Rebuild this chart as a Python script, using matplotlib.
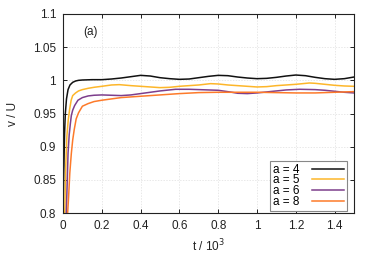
import matplotlib
matplotlib.use("Agg")
import matplotlib.pyplot as plt

plt.rcParams["font.family"] = ["Liberation Sans", "DejaVu Sans"]

# velocity curves v/U against t/10^3, one per aspect ratio a
t4 = [0.0, 0.004, 0.008, 0.012, 0.018, 0.026, 0.036, 0.05, 0.065, 0.08, 0.1, 0.15, 0.2, 0.25,
      0.3, 0.35, 0.4, 0.45, 0.5, 0.55, 0.6, 0.65, 0.7, 0.75, 0.8, 0.85, 0.9, 0.95, 1.0, 1.05,
      1.1, 1.15, 1.2, 1.25, 1.3, 1.35, 1.4, 1.45, 1.5]
v4 = [0.78, 0.86, 0.92, 0.95, 0.972, 0.986, 0.993, 0.997, 0.999, 1.0, 1.0005, 1.001, 1.001,
      1.002, 1.0035, 1.0055, 1.0075, 1.0065, 1.004, 1.0025, 1.0015, 1.002, 1.004, 1.006, 1.0075,
      1.007, 1.005, 1.0035, 1.0025, 1.003, 1.0045, 1.0065, 1.008, 1.007, 1.0045, 1.0025, 1.0015,
      1.0025, 1.005]

t5 = [0.0, 0.009, 0.014, 0.02, 0.027, 0.034, 0.042, 0.05, 0.065, 0.08, 0.1, 0.13, 0.16, 0.2,
      0.25, 0.29, 0.35, 0.4, 0.45, 0.5, 0.55, 0.6, 0.65, 0.7, 0.76, 0.8, 0.85, 0.9, 0.95, 1.0,
      1.05, 1.1, 1.15, 1.2, 1.27, 1.3, 1.35, 1.4, 1.45, 1.5]
v5 = [0.70, 0.80, 0.87, 0.916, 0.94, 0.956, 0.97, 0.977, 0.981, 0.984, 0.986, 0.988, 0.9895,
      0.991, 0.993, 0.9935, 0.992, 0.991, 0.990, 0.989, 0.9895, 0.991, 0.992, 0.993, 0.995,
      0.9945, 0.993, 0.992, 0.991, 0.990, 0.9905, 0.992, 0.993, 0.994, 0.996, 0.9955, 0.994,
      0.9925, 0.9915, 0.991]

t6 = [0.0, 0.017, 0.022, 0.026, 0.032, 0.038, 0.043, 0.05, 0.06, 0.077, 0.1, 0.13, 0.16, 0.2,
      0.25, 0.3, 0.35, 0.4, 0.45, 0.5, 0.58, 0.65, 0.7, 0.75, 0.8, 0.86, 0.9, 0.95, 1.0, 1.05,
      1.1, 1.15, 1.22, 1.3, 1.35, 1.4, 1.45, 1.5]
v6 = [0.65, 0.80, 0.85, 0.89, 0.918, 0.935, 0.947, 0.955, 0.962, 0.970, 0.974, 0.9765, 0.9775,
      0.978, 0.9775, 0.977, 0.978, 0.980, 0.982, 0.984, 0.9865, 0.9865, 0.986, 0.9855, 0.985,
      0.9825, 0.9805, 0.980, 0.981, 0.9825, 0.984, 0.9855, 0.9865, 0.986, 0.985, 0.9835, 0.982,
      0.981]

t8 = [0.0, 0.024, 0.029, 0.035, 0.043, 0.05, 0.058, 0.068, 0.08, 0.1, 0.13, 0.16, 0.2, 0.25,
      0.3, 0.4, 0.5, 0.6, 0.7, 0.8, 0.9, 1.0, 1.1, 1.2, 1.3, 1.4, 1.5]
v8 = [0.60, 0.80, 0.825, 0.86, 0.89, 0.91, 0.926, 0.942, 0.951, 0.961, 0.965, 0.968, 0.970,
      0.972, 0.974, 0.976, 0.978, 0.980, 0.9815, 0.982, 0.982, 0.982, 0.9815, 0.981, 0.981,
      0.982, 0.983]

labels = ["a = 4", "a = 5", "a = 6", "a = 8"]
colors = ["#111111", "#fdb62a", "#7d3e8c", "#fd7a2a"]

xticks = [0, 0.2, 0.4, 0.6, 0.8, 1.0, 1.2, 1.4]
xticklabels = ["0", "0.2", "0.4", "0.6", "0.8", "1", "1.2", "1.4"]
yticks = [0.8, 0.85, 0.9, 0.95, 1.0, 1.05, 1.1]
yticklabels = ["0.8", "0.85", "0.9", "0.95", "1", "1.05", "1.1"]

fs = 8.5

fig = plt.figure(figsize=(3.74, 2.62), dpi=100)
ax = fig.add_axes([63 / 374, 49 / 262, 291 / 374, 199 / 262])

for t, v, lab, c in zip([t4, t5, t6, t8], [v4, v5, v6, v8], labels, colors):
    ax.plot(t, v, color=c, lw=1.1, label=lab)

ax.set_xlim(0, 1.5)
ax.set_ylim(0.8, 1.1)
ax.set_xticks(xticks)
ax.set_xticklabels(xticklabels)
ax.set_yticks(yticks)
ax.set_yticklabels(yticklabels)
ax.tick_params(direction="in", length=3, width=0.6, top=True, right=True,
               labelsize=fs, labelcolor="#222222", pad=5)
ax.grid(True, color="#dedede", lw=0.5, ls=(0, (2, 2)))
for s in ax.spines.values():
    s.set_linewidth(0.8)
    s.set_color("#222222")

ax.set_xlabel("t / 10$^3$", fontsize=fs, color="#222222", labelpad=4)
ax.set_ylabel("v / U", fontsize=fs, color="#222222", labelpad=10)
ax.text(0.14, 1.073, "(a)", fontsize=fs, color="#222222", ha="center", va="center")

leg = ax.legend(loc="lower right", bbox_to_anchor=(0.976, 0.012), markerfirst=False,
                fontsize=fs, handlelength=2.7, labelspacing=-0.12, borderpad=0.25,
                handletextpad=1.1, borderaxespad=0, fancybox=False, framealpha=1)
leg.get_frame().set_edgecolor("#888888")
leg.get_frame().set_linewidth(0.8)

fig.savefig("out.png", dpi=100)
